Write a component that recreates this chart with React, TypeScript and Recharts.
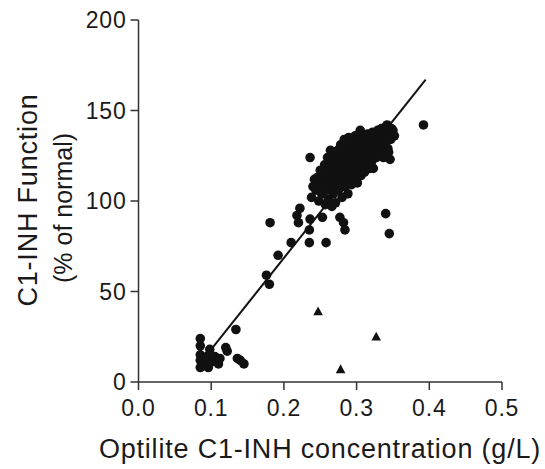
import React from "react";
import { ScatterChart, Scatter, XAxis, YAxis } from "recharts";

// [concentration g/L, function % of normal]
const lowGroup: [number, number][] = [
  [0.085, 24], [0.085, 20], [0.085, 15], [0.085, 12], [0.085, 8], [0.088, 10],
  [0.092, 9], [0.094, 14], [0.096, 8], [0.098, 18], [0.1, 11], [0.105, 14],
  [0.11, 10], [0.112, 13], [0.12, 19], [0.122, 17], [0.134, 29], [0.136, 13],
  [0.14, 12], [0.145, 10],
];

const rampGroup: [number, number][] = [
  [0.176, 59], [0.18, 54], [0.181, 88], [0.192, 70], [0.21, 77], [0.218, 92],
  [0.22, 88], [0.222, 96], [0.235, 84], [0.236, 90], [0.235, 77], [0.258, 77],
  [0.236, 124], [0.34, 93], [0.345, 82], [0.392, 142],
];

const mainCluster: [number, number][] = [
  [0.238, 102], [0.24, 108], [0.242, 112], [0.244, 106], [0.246, 113], [0.248, 100],
  [0.25, 110], [0.25, 117], [0.252, 104], [0.253, 91], [0.254, 113], [0.255, 108],
  [0.256, 120], [0.257, 98], [0.258, 115], [0.259, 106], [0.26, 111], [0.26, 124],
  [0.261, 101], [0.262, 118], [0.263, 108], [0.264, 128], [0.265, 113], [0.266, 97],
  [0.267, 121], [0.268, 110], [0.268, 104], [0.269, 116], [0.27, 125], [0.27, 108],
  [0.271, 99], [0.272, 119], [0.273, 113], [0.274, 128], [0.275, 106], [0.275, 122],
  [0.276, 116], [0.277, 91], [0.278, 111], [0.278, 131], [0.279, 119], [0.28, 102],
  [0.28, 125], [0.281, 114], [0.282, 88], [0.282, 120], [0.283, 134], [0.284, 108],
  [0.284, 84], [0.285, 117], [0.285, 127], [0.286, 122], [0.287, 112], [0.288, 130],
  [0.288, 104], [0.289, 135], [0.29, 119], [0.29, 124], [0.291, 114], [0.292, 128],
  [0.293, 109], [0.293, 121], [0.294, 132], [0.295, 117], [0.295, 125], [0.296, 112],
  [0.297, 129], [0.298, 120], [0.298, 136], [0.299, 115], [0.3, 123], [0.3, 131],
  [0.301, 110], [0.302, 126], [0.303, 118], [0.303, 134], [0.304, 121], [0.305, 139],
  [0.305, 128], [0.306, 114], [0.307, 124], [0.308, 131], [0.308, 118], [0.309, 127],
  [0.31, 122], [0.31, 135], [0.311, 116], [0.312, 129], [0.313, 124], [0.314, 133],
  [0.315, 120], [0.315, 137], [0.316, 127], [0.317, 131], [0.318, 118], [0.319, 125],
  [0.32, 135], [0.32, 129], [0.321, 122], [0.322, 138], [0.323, 118], [0.324, 132],
  [0.325, 127], [0.326, 136], [0.327, 124], [0.328, 130], [0.329, 139], [0.33, 134],
  [0.331, 127], [0.332, 137], [0.333, 131], [0.334, 140], [0.335, 128], [0.336, 135],
  [0.337, 124], [0.338, 138], [0.339, 132], [0.34, 141], [0.341, 136], [0.342, 142],
  [0.343, 129], [0.344, 127], [0.345, 138], [0.346, 123], [0.347, 134], [0.348, 140],
  [0.35, 139], [0.352, 136],
];

const triangles: [number, number][] = [
  [0.247, 39], [0.327, 25], [0.278, 7],
];

const fitLine: [number, number][] = [
  [0.1, 18], [0.395, 167],
];

const xTicks = [0, 0.1, 0.2, 0.3, 0.4, 0.5];
const yTicks = [0, 50, 100, 150, 200];

const toRows = (pts: [number, number][]) => pts.map(([x, y]) => ({ x, y }));

const INK = "#111";
const TEXT = "#1a1a1a";
const tickStyle = { fill: TEXT, fontSize: 23, fontFamily: "Liberation Sans, Arial, sans-serif", letterSpacing: 0.8 };

const Dot = (props: any) => <circle cx={props.cx} cy={props.cy} r={4.8} fill={INK} />;
const Tri = (props: any) => {
  const { cx, cy } = props;
  return <path d={`M${cx},${cy - 5} L${cx + 4.8},${cy + 3.8} L${cx - 4.8},${cy + 3.8} Z`} fill={INK} />;
};

export default function App() {
  const font = "Liberation Sans, Arial, sans-serif";
  return (
    <div>
      <style>{`body{margin:0}`}</style>
      <ScatterChart width={545} height={469} margin={{ top: 20, right: 43, bottom: 0, left: 0 }}>
        <XAxis
          type="number"
          dataKey="x"
          domain={[0, 0.5]}
          ticks={xTicks}
          tickFormatter={(v: number) => v.toFixed(1)}
          height={87}
          tickSize={8}
          tickMargin={10}
          tick={tickStyle}
          stroke="#333"
          strokeWidth={1.5}
          tickLine={{ stroke: "#333", strokeWidth: 1.5 }}
          label={{
            content: () => (
              <text x={320} y={458} textAnchor="middle" fontSize={27} fontFamily={font} fill={TEXT} letterSpacing={0.8}>
                Optilite C1-INH concentration (g/L)
              </text>
            ),
          }}
        />
        <YAxis
          type="number"
          dataKey="y"
          domain={[0, 200]}
          ticks={yTicks}
          width={138.5}
          tickSize={8}
          tickMargin={4}
          tick={tickStyle}
          stroke="#333"
          strokeWidth={1.5}
          tickLine={{ stroke: "#333", strokeWidth: 1.5 }}
          label={{
            content: () => (
              <g fill={TEXT} fontFamily={font}>
                <text x={37} y={200} transform="rotate(-90 37 200)" textAnchor="middle" fontSize={27} letterSpacing={0.8}>
                  C1-INH Function
                </text>
                <text x={72} y={208} transform="rotate(-90 72 208)" textAnchor="middle" fontSize={25}>
                  (% of normal)
                </text>
              </g>
            ),
          }}
        />
        <Scatter data={toRows(fitLine)} line={{ stroke: INK, strokeWidth: 2 }} shape={() => <g />} isAnimationActive={false} />
        <Scatter data={toRows(lowGroup)} shape={Dot} isAnimationActive={false} />
        <Scatter data={toRows(rampGroup)} shape={Dot} isAnimationActive={false} />
        <Scatter data={toRows(mainCluster)} shape={Dot} isAnimationActive={false} />
        <Scatter data={toRows(triangles)} shape={Tri} isAnimationActive={false} />
      </ScatterChart>
    </div>
  );
}
